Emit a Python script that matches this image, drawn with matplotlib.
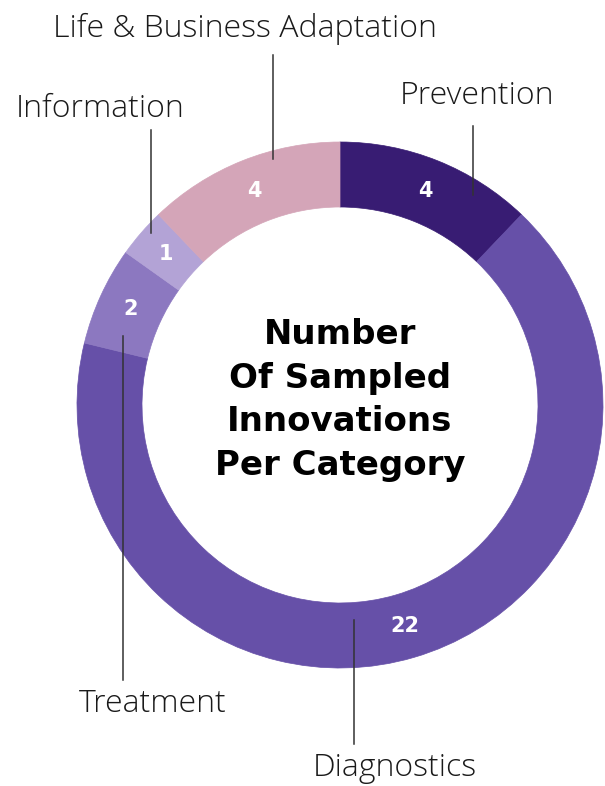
import matplotlib
matplotlib.use("Agg")
import matplotlib.pyplot as plt
import numpy as np

categories = ["Prevention", "Diagnostics", "Treatment", "Information", "Life & Business Adaptation"]
values = [4, 22, 2, 1, 4]
colors = ["#381C73", "#6650A8", "#8C78C0", "#B3A3D6", "#D4A5B8"]
title = "Number\nOf Sampled\nInnovations\nPer Category"

W, H = 605, 786
fig = plt.figure(figsize=(W / 100, H / 100), dpi=100)
ax = fig.add_axes([0, 0, 1, 1])

cx, cy, R = 340, H - 405, 263
wedges, _ = ax.pie(values, colors=colors, startangle=90, counterclock=False,
                   center=(cx, cy), radius=R,
                   wedgeprops=dict(width=65, linewidth=0.5))
for w, c in zip(wedges, colors):
    w.set_edgecolor(c)
ax.set_xlim(0, W)
ax.set_ylim(0, H)
ax.set_aspect("equal")
ax.axis("off")

# value labels inside ring
rmid = R - 65 / 2
for w, v in zip(wedges, values):
    ang = np.deg2rad((w.theta1 + w.theta2) / 2)
    ax.text(cx + rmid * np.cos(ang), cy + rmid * np.sin(ang), str(v),
            color="white", fontsize=15, fontweight="bold", family="DejaVu Sans",
            ha="center", va="center")

# center title
ax.text(cx, H - 400, title, ha="center", va="center", fontsize=24.5,
        family="DejaVu Sans", fontweight="bold", color="black", linespacing=1.42)

# category labels with leader lines (pixel positions, y from top)
label_pos = {
    "Prevention": ((477, 104), (473, 126, 195)),
    "Diagnostics": ((395, 776), (354, 620, 744)),
    "Treatment": ((153, 712), (123, 336, 680)),
    "Information": ((100, 117), (151, 130, 233)),
    "Life & Business Adaptation": ((245, 37), (273, 55, 159)),
}
for cat in categories:
    (tx, ty), (lx, y0, y1) = label_pos[cat]
    ax.text(tx, H - ty, cat, ha="center", va="baseline", fontsize=23,
            family="Open Sans", fontweight="light", color="#1a1a1a")
    ax.plot([lx, lx], [H - y0, H - y1], color="#333333", linewidth=1.1)

fig.savefig("out.png", dpi=100)
